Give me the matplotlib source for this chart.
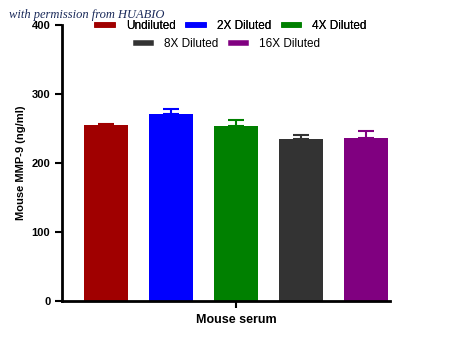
import numpy as np
import matplotlib.pyplot as plt
from matplotlib.lines import Line2D

plt.rcParams['font.family'] = ['Liberation Sans', 'DejaVu Sans']

labels = ["Undiluted", "2X Diluted", "4X Diluted", "8X Diluted", "16X Diluted"]
means = [255.5, 271.5, 254.0, 235.0, 236.5]
errors = [1.0, 7.5, 8.5, 5.0, 10.0]
colors = ["#a00000", "#0000ff", "#008000", "#333333", "#800080"]

fig = plt.figure(figsize=(4.5, 3.43), dpi=100)
ax = fig.add_axes([0.138, 0.1224, 0.729, 0.8046])

x = np.arange(len(labels))
for i in range(len(labels)):
    ax.bar(x[i], means[i], width=0.68, color=colors[i], zorder=2)
    ax.errorbar(x[i], means[i], yerr=[[0], [errors[i]]], color=colors[i],
                capsize=6, elinewidth=1.5, capthick=1.5, zorder=1)

ax.set_ylim(0, 400)
ax.set_xlim(-0.677, 4.37)
ax.set_yticks([0, 100, 200, 300, 400])
ax.set_xticks([2])
ax.set_xticklabels(["Mouse serum"], fontsize=9, fontweight='bold')
ax.set_ylabel("Mouse MMP-9 (ng/ml)", fontsize=8, fontweight='bold')

for s in ['top', 'right']:
    ax.spines[s].set_visible(False)
for s in ['left', 'bottom']:
    ax.spines[s].set_linewidth(2)
ax.tick_params(axis='y', length=5, width=1.5, labelsize=8)
ax.tick_params(axis='x', length=5, width=1.5, pad=4)
for t in ax.get_yticklabels():
    t.set_fontweight('bold')

# legend in two centered rows
handles = [Line2D([0], [0], color=c, lw=4) for c in colors]
row1 = fig.legend(handles[:3], labels[:3], loc='center', ncol=3,
                  bbox_to_anchor=(232 / 450, 1 - 26 / 343), frameon=False,
                  fontsize=8.5, handlelength=1.3, handletextpad=1.1, columnspacing=1.1)
fig.add_artist(row1)
fig.legend(handles[3:], labels[3:], loc='center', ncol=2,
           bbox_to_anchor=(228 / 450, 1 - 44 / 343), frameon=False,
           fontsize=8.5, handlelength=1.3, handletextpad=1.1, columnspacing=1.1)

fig.text(0.02, 1 - 15 / 343, "with permission from HUABIO", fontsize=9,
         style='italic', family='Liberation Serif', color='#1a2a5a', va='center')

fig.savefig("out.png", dpi=100)
